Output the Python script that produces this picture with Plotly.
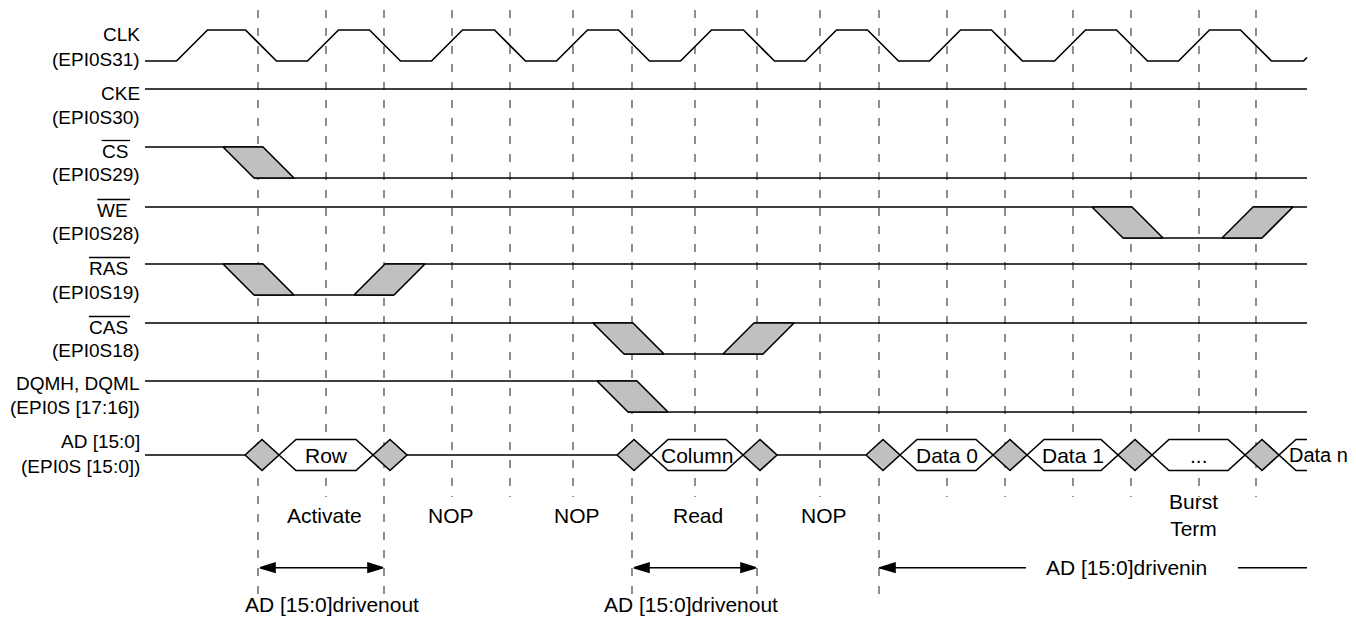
import numpy as np
import plotly.graph_objects as go

# ---- values (x = position along the time axis) ----
row_names = ["CLK", "CKE", "CS", "WE", "RAS", "CAS", "DQMH, DQML", "AD [15:0]"]
row_pins = ["(EPI0S31)", "(EPI0S30)", "(EPI0S29)", "(EPI0S28)",
            "(EPI0S19)", "(EPI0S18)", "(EPI0S [17:16])", "(EPI0S [15:0])"]
overlined = ["CS", "WE", "RAS", "CAS"]

# clock edge centres
clk_rise = [192, 323, 447, 572, 696, 821, 945, 1070, 1194, 1319]
clk_fall = [261, 385, 510, 634, 759, 883, 1007, 1132, 1256]

# control lines: start of each transition window (all start high)
cs_edges = [223]
we_edges = [1092, 1222]
ras_edges = [223, 354]
cas_edges = [593, 723]
dqm_edges = [597]
ctrl_edges = [cs_edges, we_edges, ras_edges, cas_edges, dqm_edges]

# AD bus: crossing centres and the word that follows each crossing
bus_cross = [262, 390, 634, 760, 883, 1010, 1135, 1262]
bus_words = ["Row", None, "Column", None, "Data 0", "Data 1", "...", "Data n"]

# clock reference lines
edge_x = [258, 326, 384, 452, 510, 573, 632, 695, 757, 820, 879,
          947, 1005, 1073, 1131, 1199, 1256]
long_edges = [258, 384, 632, 757, 879]

commands = ["Activate", "NOP", "NOP", "Read", "NOP", "Burst<br>Term"]
command_x = [324, 451, 577, 698, 824, 1193]

out_from = [258, 632]
out_to = [384, 757]
in_from = 879

# ---- layout geometry ----
OFF = 8          # page body margin of the html
W, H = 1356 - 2 * OFF, 626 - 2 * OFF
T0, T1 = 145, 1307
SW = 31          # level swing
SL = 31          # slant width
WIN = 40         # uncertainty window
clk_hi = 30
cke_y = 89
ctrl_hi = [147, 207, 264, 323, 381]
bus_mid, bus_h, bus_w = 455, 15.5, 17
name_y = [34, 93, 151, 210, 268, 327, 383, 441]
pin_y = [59, 117, 174, 233, 292, 350, 407, 466]

FONT = "Liberation Sans, Arial, sans-serif"
LINE = dict(color="black", width=1.6)
GRAY = "#c0c0c0"

fig = go.Figure()


def add_line(xs, ys):
    fig.add_trace(go.Scatter(x=xs, y=ys, mode="lines", line=LINE,
                             hoverinfo="skip", showlegend=False))


def add_poly(xs, ys, fill, outline=True):
    fig.add_trace(go.Scatter(x=list(xs) + [xs[0]], y=list(ys) + [ys[0]],
                             mode="lines", fill="toself", fillcolor=fill,
                             line=LINE if outline else dict(width=0),
                             hoverinfo="skip", showlegend=False))


def text(x, y, s, size, anchor="center"):
    fig.add_annotation(x=x, y=y, text=s, showarrow=False, xanchor=anchor,
                       yanchor="middle", font=dict(family=FONT, size=size, color="black"))


# dashed clock reference lines
for x in edge_x:
    y1 = 595 if x in long_edges else 497
    fig.add_shape(type="line", xref="x", yref="y", x0=x, x1=x, y0=10, y1=y1,
                  line=dict(color="#5e5e5e", width=1.4, dash="8px,10px"), layer="below")

# CLK
pts = [(T0, clk_hi + SW)]
for c, d in sorted([(c, 1) for c in clk_rise] + [(c, 0) for c in clk_fall]):
    a, b = (clk_hi + SW, clk_hi) if d else (clk_hi, clk_hi + SW)
    pts += [(c - SL / 2, a), (c + SL / 2, b)]
xs = np.array([p[0] for p in pts], float)
ys = np.array([p[1] for p in pts], float)
keep = xs < T1
add_line(list(xs[keep]) + [T1], list(ys[keep]) + [float(np.interp(T1, xs, ys))])

# CKE
add_line([T0, T1], [cke_y, cke_y])

# control lines
for hi, edges in zip(ctrl_hi, ctrl_edges):
    lo = hi + SW
    cur, level = T0, hi
    polys = []
    for t in edges:
        other = lo if level == hi else hi
        add_line([cur, t + WIN], [level, level])
        polys.append(([t, t + WIN, t + WIN + SL, t + SL], [level, level, other, other]))
        cur, level = t + SL, other
    add_line([cur, T1], [level, level])
    for px, py in polys:
        add_poly(px, py, GRAY)

# AD bus
top, bot = bus_mid - bus_h, bus_mid + bus_h
add_line([T0, bus_cross[0] - bus_w], [bus_mid, bus_mid])
for i, c in enumerate(bus_cross):
    a = c + bus_w
    word = bus_words[i]
    last = i == len(bus_cross) - 1
    b = T1 if last else bus_cross[i + 1] - bus_w
    if word is None:
        add_line([a, b], [bus_mid, bus_mid])
    elif last:
        add_poly([a, a + bus_w, b, b, a + bus_w], [bus_mid, top, top, bot, bot], "white", outline=False)
        add_line([b, a + bus_w, a, a + bus_w, b], [top, top, bus_mid, bot, bot])
        text(a + 8, bus_mid, word, 20, "left")
    else:
        add_poly([a, a + bus_w, b - bus_w, b, b - bus_w, a + bus_w],
                 [bus_mid, top, top, bus_mid, bot, bot], "white")
        text((a + b) / 2, bus_mid, word, 21)
    add_poly([c - bus_w, c, c + bus_w, c], [bus_mid, top, bus_mid, bot], GRAY)

# row labels
char_w = {"C": .722, "S": .667, "W": .944, "E": .667, "R": .722, "A": .667}
for i, name in enumerate(row_names):
    if name in overlined:
        text(130, name_y[i], name, 19, "right")
        w = sum(char_w[ch] for ch in name) * 19
        fig.add_shape(type="line", xref="x", yref="y", x0=128 - w, x1=130,
                      y0=name_y[i] - 10.5, y1=name_y[i] - 10.5,
                      line=dict(color="black", width=1.3))
    else:
        text(142, name_y[i], name, 19, "right")
    text(142, pin_y[i], row_pins[i], 19, "right")

# command row
for s, x in zip(commands, command_x):
    text(x, 515, s, 21)


def arrow_head(tip, direction, y=567.7):
    add_poly([tip, tip - direction * 15, tip - direction * 15], [y, y - 4.5, y + 4.5], "black")


for a, b, lx in zip(out_from, out_to, [332, 691]):
    add_line([a + 2, b - 2], [567.7, 567.7])
    arrow_head(a + 2, -1)
    arrow_head(b - 1, 1)
    text(lx, 604, "AD [15:0]drivenout", 21)

add_line([in_from, 1026], [567.7, 567.7])
add_line([1238, T1], [567.7, 567.7])
arrow_head(in_from + 1, -1)
text(1126, 567.7, "AD [15:0]drivenin", 21)

fig.update_layout(
    width=W, height=H,
    margin=dict(l=0, r=0, t=0, b=0),
    paper_bgcolor="white", plot_bgcolor="white",
    xaxis=dict(range=[OFF, OFF + W], visible=False, fixedrange=True),
    yaxis=dict(range=[OFF + H, OFF], visible=False, fixedrange=True),
    showlegend=False,
)

fig.write_html("out.html")
